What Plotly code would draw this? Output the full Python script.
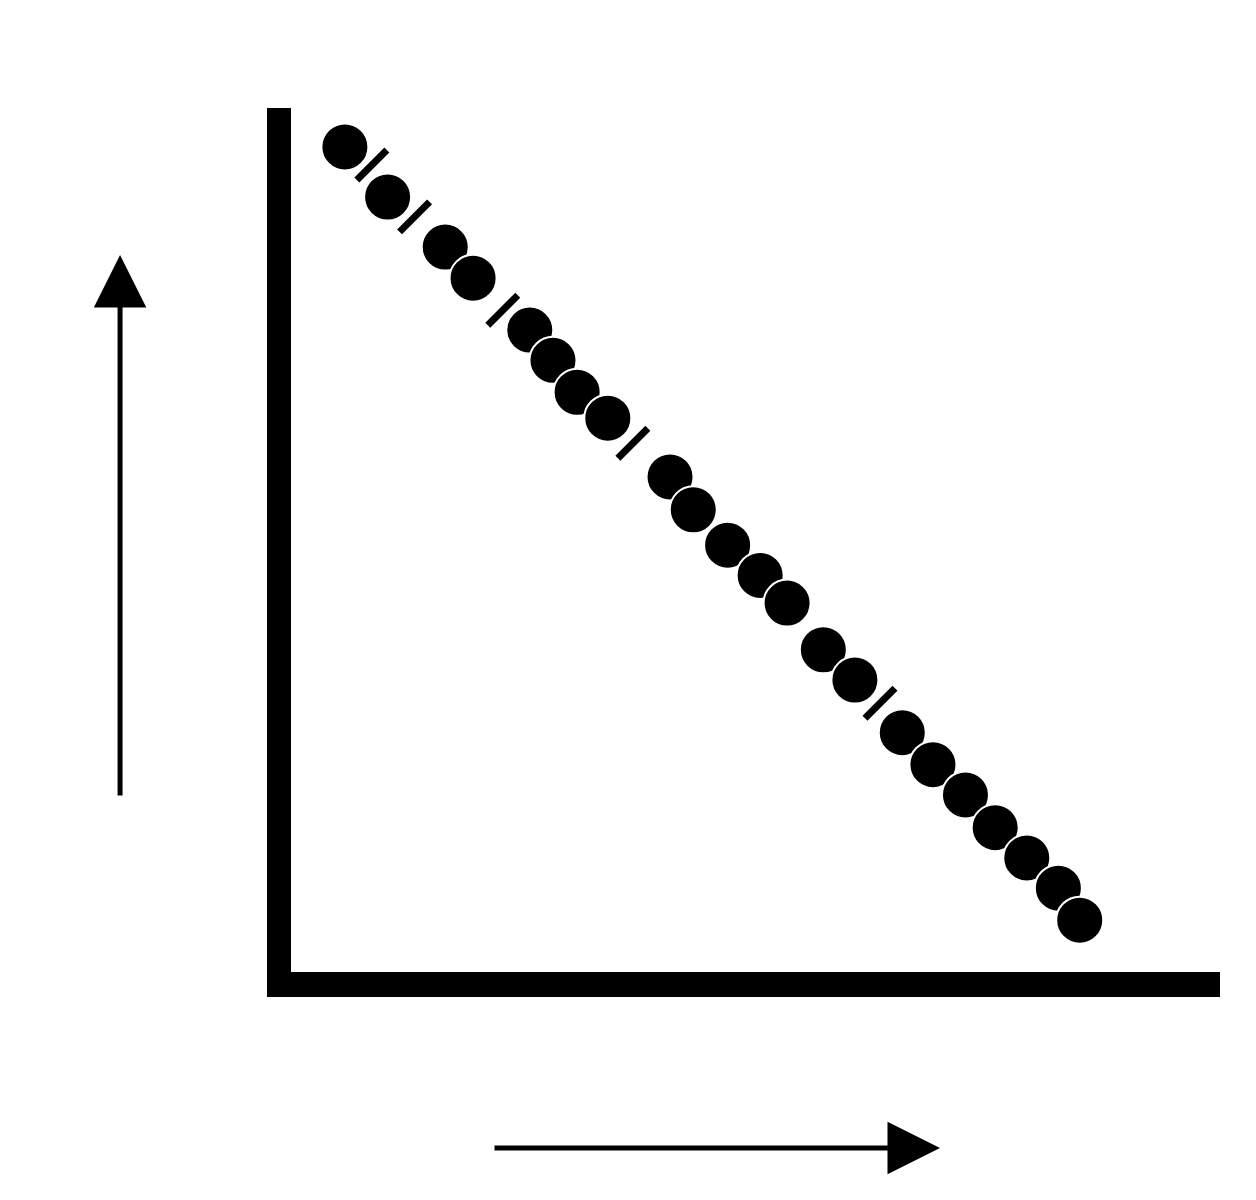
import plotly.graph_objects as go

# Large round markers along the diagonal
big_x = [0.58, 1.04, 1.66, 1.96, 2.57, 2.82, 3.08, 3.41, 4.08, 4.33, 4.70, 5.05,
         5.34, 5.73, 6.07, 6.58, 6.91, 7.26, 7.58, 7.92, 8.26, 8.49]
big_y = [9.55, 8.97, 8.39, 8.03, 7.43, 7.08, 6.71, 6.41, 5.73, 5.35, 4.94, 4.59,
         4.27, 3.73, 3.38, 2.77, 2.40, 2.05, 1.67, 1.32, 0.97, 0.60]

# Small dash-like markers between some of the circles
small_x = [0.87, 1.33, 2.28, 3.68, 6.34]
small_y = [9.34, 8.74, 7.66, 6.12, 3.11]

fig = go.Figure()
fig.add_trace(go.Scatter(
    x=big_x, y=big_y, mode="markers",
    marker=dict(symbol="circle", size=47, color="black",
                line=dict(width=2, color="white")),
    cliponaxis=False, hoverinfo="skip"))
fig.add_trace(go.Scatter(
    x=small_x, y=small_y, mode="markers",
    marker=dict(symbol="line-ne", size=30, color="black",
                line=dict(width=7, color="black")),
    cliponaxis=False, hoverinfo="skip"))

fig.update_layout(
    width=1256, height=1200,
    margin=dict(l=283, r=44, t=100, b=236),
    paper_bgcolor="white", plot_bgcolor="white",
    showlegend=False,
    xaxis=dict(range=[0, 10], showline=True, linewidth=25, linecolor="black",
               showgrid=False, zeroline=False, showticklabels=False, ticks=""),
    yaxis=dict(range=[0, 10], showline=True, linewidth=24, linecolor="black",
               showgrid=False, zeroline=False, showticklabels=False, ticks=""),
    annotations=[
        dict(xref="paper", yref="paper", x=-0.184, y=0.83, text="",
             showarrow=True, ax=0, ay=542, axref="pixel", ayref="pixel",
             arrowhead=2, arrowsize=2.1, arrowwidth=5, arrowcolor="black"),
        dict(xref="paper", yref="paper", x=0.6986, y=-0.2037, text="",
             showarrow=True, ax=-447, ay=0, axref="pixel", ayref="pixel",
             arrowhead=2, arrowsize=2.1, arrowwidth=5, arrowcolor="black"),
    ],
)

fig.write_html("out.html")
